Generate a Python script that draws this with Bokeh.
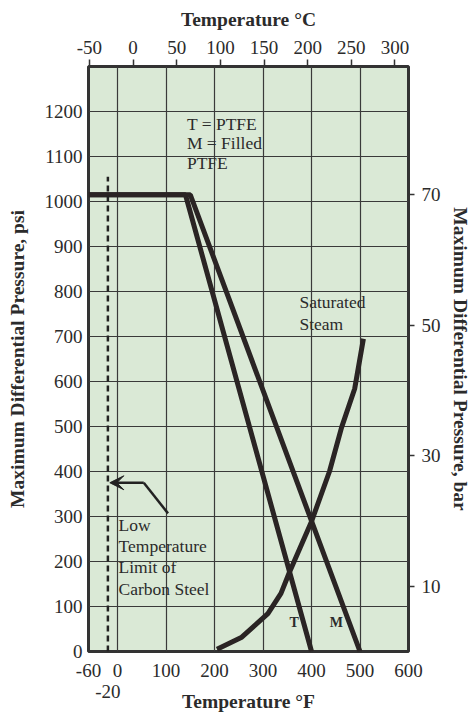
from bokeh.plotting import figure
from bokeh.models import Range1d, LinearAxis, FixedTicker, Arrow, VeeHead
from bokeh.core.properties import value
from bokeh.embed import file_html
from bokeh.resources import INLINE

# ---- data ----
PSI_PER_BAR = 14.5038
temp_F_ticks = [-60, -20, 0, 100, 200, 300, 400, 500, 600]
temp_F_labels = ["-60", "\n-20", "0", "100", "200", "300", "400", "500", "600"]
temp_C_ticks = [-50, 0, 50, 100, 150, 200, 250, 300]
temp_C_labels = ["-50", "0", "50", "100", "150", "200", "250", "300"]
psi_ticks = [0, 100, 200, 300, 400, 500, 600, 700, 800, 900, 1000, 1100, 1200]
bar_ticks = [10, 30, 50, 70]
grid_F = [0, 100, 200, 300, 400, 500]
grid_psi = [100, 200, 300, 400, 500, 600, 700, 800, 900, 1000, 1100, 1200]

ptfe_F = [-60, 140, 400]
ptfe_psi = [1015, 1015, 0]
filled_F = [-60, 150, 500]
filled_psi = [1015, 1015, 0]
steam_F = [205, 255, 310, 337, 354, 400, 437, 462, 489, 507]
steam_psi = [5, 31, 84, 129, 175, 289, 400, 498, 584, 695]
cs_F = [-20, -20]
cs_psi = [0, 1055]
arrow_F = [104, 54, -16]
arrow_psi = [307, 375, 375]

legend_lines = ["T = PTFE", "M = Filled", "PTFE"]
legend_F = [143, 143, 143]
legend_psi = [1173, 1129, 1085]
low_lines = ["Low", "Temperature", "Limit of", "Carbon Steel"]
low_F = [2, 2, 2, 2]
low_psi = [282, 234, 187, 139]
steam_lines = ["Saturated", "Steam"]
steam_lbl_F = [375, 375]
steam_lbl_psi = [777, 728]
curve_tags = ["T", "M"]
tag_F = [364, 451]
tag_psi = [64, 64]

F_MIN, F_MAX = -60, 600
PSI_MAX = 1300

FONT = "Liberation Serif"
TXT = "#2b2b2b"
INK = "#2a2424"

p = figure(frame_width=320, frame_height=585,
           x_range=Range1d(F_MIN, F_MAX), y_range=Range1d(0, PSI_MAX),
           output_backend="svg", toolbar_location=None,
           min_border_left=88, min_border_right=62, min_border_top=66, min_border_bottom=65,
           background_fill_color="#dae9d6", border_fill_color="white",
           outline_line_color="#333333", outline_line_width=3)

p.extra_x_ranges = {"C": Range1d((F_MIN - 32) * 5 / 9, (F_MAX - 32) * 5 / 9)}
p.extra_y_ranges = {"bar": Range1d(0, PSI_MAX / PSI_PER_BAR)}


def style_axis(ax, ticks, label, tick_out):
    ax.ticker = FixedTicker(ticks=ticks)
    ax.axis_label = label
    ax.axis_line_color = None
    ax.major_tick_in = 0
    ax.major_tick_out = tick_out
    ax.major_tick_line_color = "#333333"
    ax.major_tick_line_width = 1.5
    ax.minor_tick_in = 0
    ax.minor_tick_out = 0
    ax.major_label_text_font = FONT
    ax.major_label_text_font_size = "19px"
    ax.major_label_text_color = TXT
    ax.axis_label_text_font = FONT
    ax.axis_label_text_font_size = "19.5px"
    ax.axis_label_text_font_style = "bold"
    ax.axis_label_text_color = TXT


bottom = p.xaxis[0]
style_axis(bottom, temp_F_ticks, "Temperature °F", 0)
bottom.major_label_overrides = dict(zip(temp_F_ticks, temp_F_labels))
bottom.major_label_text_line_height = 1.0
bottom.major_label_standoff = 8
bottom.axis_label_standoff = -14

left = p.yaxis[0]
style_axis(left, psi_ticks, "Maximum Differential Pressure, psi", 0)
left.major_label_standoff = 6
left.axis_label_standoff = 14

top = LinearAxis(x_range_name="C")
style_axis(top, temp_C_ticks, "Temperature °C", 7)
top.major_label_overrides = dict(zip(temp_C_ticks, temp_C_labels))
top.major_label_standoff = 6
top.axis_label_standoff = 8
p.add_layout(top, "above")

right = LinearAxis(y_range_name="bar")
style_axis(right, bar_ticks, "Maximum Differential Pressure, bar", 6)
right.major_label_standoff = 7
right.axis_label_standoff = 6
p.add_layout(right, "right")

p.xgrid.ticker = FixedTicker(ticks=grid_F)
p.ygrid.ticker = FixedTicker(ticks=grid_psi)
p.grid.grid_line_color = "#3a3a3a"
p.grid.grid_line_width = 1.2

# curves
p.line(ptfe_F, ptfe_psi, line_color=INK, line_width=5)
p.line(filled_F, filled_psi, line_color=INK, line_width=5)
p.line(steam_F, steam_psi, line_color=INK, line_width=5)
p.line(cs_F, cs_psi, line_color="#222222", line_width=2.5, line_dash="6 4")

# arrow
p.line(arrow_F[:2], arrow_psi[:2], line_color="#222222", line_width=2.5)
p.add_layout(Arrow(x_start=arrow_F[1], y_start=arrow_psi[1], x_end=arrow_F[2], y_end=arrow_psi[2],
                   line_color="#222222", line_width=2.5,
                   end=VeeHead(size=14, fill_color="#222222", line_color="#222222")))

# texts
common = dict(text_font=value(FONT), text_color=TXT, text_baseline="middle", text_align="left")
p.text(x=legend_F, y=legend_psi, text=legend_lines, text_font_size="17.5px", **common)
p.text(x=low_F, y=low_psi, text=low_lines, text_font_size="17.5px", **common)
p.text(x=steam_lbl_F, y=steam_lbl_psi, text=steam_lines, text_font_size="17.5px", **common)
p.text(x=tag_F, y=tag_psi, text=curve_tags, text_font=value(FONT), text_color=TXT,
       text_baseline="middle", text_align="center", text_font_size="14px", text_font_style="bold")

open("out.html", "w").write(file_html(p, INLINE))
